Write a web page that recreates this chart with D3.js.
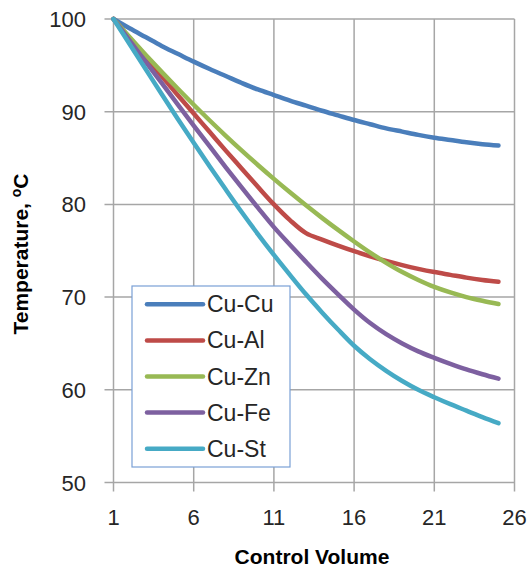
<!DOCTYPE html>
<html>
<head>
  <script src="https://cdn.jsdelivr.net/npm/d3@7"></script>
  <style>
    body { margin: 0; background: #fff; }
    svg { font-family: "Liberation Sans", Arial, sans-serif; }
  </style>
</head>
<body>
  <svg id="chart" width="530" height="569"></svg>
  <script>
    // control volume index
    var volumes = d3.range(1, 26);
    var seriesNames = ["Cu-Cu", "Cu-Al", "Cu-Zn", "Cu-Fe", "Cu-St"];
    var seriesColors = ["#4a7ebb", "#be4b48", "#98b954", "#7d60a0", "#46aac5"];

    // temperatures, x = 1..25
    var cuCu = [100, 99.0, 98.05, 97.1, 96.25, 95.4, 94.6, 93.85, 93.1, 92.4, 91.8, 91.2, 90.65, 90.1, 89.6, 89.1, 88.65, 88.2, 87.85, 87.5, 87.2, 86.95, 86.7, 86.5, 86.35];
    var cuAl = [100, 97.95, 95.9, 93.85, 91.8, 89.8, 87.8, 85.8, 83.85, 81.9, 80.0, 78.3, 76.9, 76.2, 75.55, 74.95, 74.4, 73.9, 73.45, 73.05, 72.7, 72.4, 72.1, 71.85, 71.65];
    var cuZn = [100, 98.05, 96.15, 94.3, 92.5, 90.75, 89.05, 87.4, 85.8, 84.25, 82.75, 81.3, 79.9, 78.55, 77.25, 76.0, 74.8, 73.7, 72.7, 71.85, 71.1, 70.5, 70.0, 69.6, 69.25];
    var cuFe = [100, 97.7, 95.4, 93.1, 90.8, 88.5, 86.25, 84.0, 81.8, 79.65, 77.55, 75.65, 73.8, 72.0, 70.3, 68.65, 67.2, 66.0, 65.0, 64.15, 63.45, 62.8, 62.2, 61.68, 61.2];
    var cuSt = [100, 97.3, 94.6, 91.9, 89.25, 86.65, 84.1, 81.6, 79.15, 76.8, 74.55, 72.4, 70.3, 68.35, 66.5, 64.75, 63.3, 62.05, 60.95, 60.0, 59.2, 58.45, 57.75, 57.05, 56.4];

    var xTicks = [1, 6, 11, 16, 21, 26];
    var yTicks = [50, 60, 70, 80, 90, 100];

    var series = [cuCu, cuAl, cuZn, cuFe, cuSt].map(function(vals, i) {
      return { name: seriesNames[i], color: seriesColors[i], values: vals };
    });

    var svg = d3.select("#chart");
    var gridColor = "#a6a6a6";

    var x = d3.scaleLinear().domain([1, 26]).range([113.5, 514.5]);
    var y = d3.scaleLinear().domain([50, 100]).range([482.5, 19]);

    // grid
    svg.append("g").selectAll("line.h")
      .data(yTicks)
      .enter().append("line")
      .attr("x1", x(1) - 9).attr("x2", x(26))
      .attr("y1", d => y(d)).attr("y2", d => y(d))
      .attr("stroke", gridColor).attr("stroke-width", 1.5);

    svg.append("g").selectAll("line.v")
      .data(xTicks)
      .enter().append("line")
      .attr("x1", d => x(d)).attr("x2", d => x(d))
      .attr("y1", y(100)).attr("y2", y(50) + 9)
      .attr("stroke", gridColor).attr("stroke-width", 1.5);

    // tick labels
    svg.append("g").selectAll("text")
      .data(yTicks)
      .enter().append("text")
      .attr("x", 86).attr("y", d => y(d) + 8)
      .attr("text-anchor", "end")
      .style("font-size", "22px").style("fill", "#262626")
      .text(d => d);

    svg.append("g").selectAll("text")
      .data(xTicks)
      .enter().append("text")
      .attr("x", d => x(d)).attr("y", 525)
      .attr("text-anchor", "middle")
      .style("font-size", "22px").style("fill", "#262626")
      .text(d => d);

    // lines
    var line = d3.line()
      .x((d, i) => x(volumes[i]))
      .y(d => y(d))
      .curve(d3.curveCatmullRom.alpha(0.5));

    svg.append("g").selectAll("path")
      .data(series)
      .enter().append("path")
      .attr("d", d => line(d.values))
      .attr("fill", "none")
      .attr("stroke", d => d.color)
      .attr("stroke-width", 4.5)
      .attr("stroke-linecap", "round")
      .attr("stroke-linejoin", "round");

    // axis titles
    svg.append("text")
      .attr("x", 312).attr("y", 564)
      .attr("text-anchor", "middle")
      .style("font-size", "21px").style("font-weight", "bold").style("fill", "#000")
      .text("Control Volume");

    var yt = svg.append("text")
      .attr("transform", "translate(28,254) rotate(-90)")
      .attr("text-anchor", "middle")
      .style("font-size", "21px").style("font-weight", "bold").style("fill", "#000");
    yt.append("tspan").text("Temperature, ");
    yt.append("tspan").attr("dy", -7).style("font-size", "14px").text("o");
    yt.append("tspan").attr("dy", 7).text("C");

    // legend
    var lg = svg.append("g");
    lg.append("rect")
      .attr("x", 132).attr("y", 286)
      .attr("width", 158).attr("height", 181)
      .attr("fill", "#fff")
      .attr("stroke", "#7aa0d6").attr("stroke-width", 1.2);

    var rows = lg.selectAll("g.row")
      .data(series)
      .enter().append("g")
      .attr("transform", (d, i) => "translate(0," + (304.3 + i * 36.1) + ")");

    rows.append("line")
      .attr("x1", 147).attr("x2", 203)
      .attr("stroke", d => d.color)
      .attr("stroke-width", 4.5)
      .attr("stroke-linecap", "round");

    rows.append("text")
      .attr("x", 207).attr("y", 8)
      .style("font-size", "23px").style("fill", "#262626")
      .text(d => d.name);
  </script>
</body>
</html>
